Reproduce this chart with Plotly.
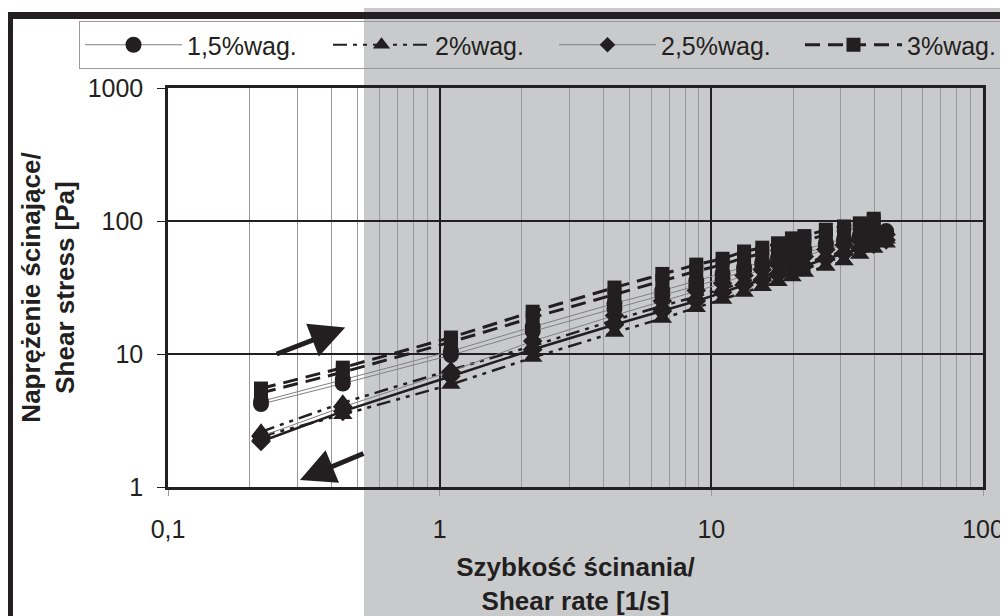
import math
import plotly.graph_objects as go

# ---------------- data ----------------
shear_rate = [0.22, 0.44, 1.1, 2.2, 4.4, 6.6, 8.8, 11, 13.2, 15.4, 17.6, 19.8, 22, 26.4, 30.8, 35.2, 39.6, 44]

s15_up = [4.4, 6.4, 10.5, 16, 24, 30, 35.5, 40, 45, 49, 53, 57, 61, 68, 73, 78, 82, 84]
s15_dn = [4.2, 6.0, 9.8, 14.8, 22, 27.5, 32.5, 37, 42, 46, 50, 54, 57, 64, 69, 74, 79, 82]

s2_up = [2.6, 4.3, 7.6, 11.5, 18, 23, 27, 31, 35, 38, 42, 45, 48, 54, 59, 64, 69, 73]
s2_dn = [2.4, 3.5, 5.9, 9.4, 14.5, 18.5, 22.3, 25.7, 29, 32, 35, 38, 41, 45.5, 50, 56, 62, 68]

s25_up = [2.4, 4.0, 7.4, 12.5, 19.5, 25, 30, 34, 39, 43, 47, 51, 54, 61, 66, 71, 76, 79]
s25_dn = [2.2, 3.7, 6.8, 10.8, 16.6, 21, 25, 29, 33, 36, 39.5, 43, 46, 52, 57, 62, 67, 72]

s3_up = [5.5, 7.9, 13.3, 20.8, 31.6, 40, 47, 52, 59, 63, 68, 74, 77, 86, 91, 96, 104]
s3_dn = [5.1, 7.3, 12.3, 18.8, 28, 35.5, 42, 47, 53, 57, 62, 67, 71, 79, 85, 91, 99]

legend_names = ["1,5%wag.", "2%wag.", "2,5%wag.", "3%wag."]
x_tickvals = [0.1, 1, 10, 100]
x_ticktext = ["0,1", "1", "10", "100"]
y_tickvals = [1, 10, 100, 1000]
y_ticktext = ["1", "10", "100", "1000"]

# arrows (head x, head y in data units; tail offset in px)
arrow_up = dict(x=0.449, y=15.8, ax=-70, ay=27)
arrow_dn = dict(x=0.306, y=1.13, ax=65, ay=-27)

# ---------------- layout constants ----------------
# the page body adds an 8px offset, so the figure is 1000x608
OFF = 8
W, H = 1000, 608
ML, MR, MT, MB = 160, 25, 80, 129
INK = "#231f20"
GRAY_BG = "#c9cacc"
FONT = "Liberation Sans, Arial, sans-serif"


def px_x(px):
    """screen px -> paper x"""
    return (px - OFF - ML) / (W - ML - MR)


def px_y(py):
    """screen px -> paper y"""
    return (H - MB - (py - OFF)) / (H - MT - MB)


DASH3 = "15px,8px"
DASH2 = "14px,6px,4px,6px,4px,6px"

fig = go.Figure()

# data traces
series = [
    (s15_up, dict(color="#808080", width=1), dict(symbol="circle", size=16)),
    (s15_dn, dict(color="#808080", width=1), dict(symbol="circle", size=16)),
    (s2_up, dict(color=INK, width=2.5, dash=DASH2), dict(symbol="triangle-up", size=17)),
    (s2_dn, dict(color=INK, width=2.5, dash=DASH2), dict(symbol="triangle-up", size=17)),
    (s25_up, dict(color="#808080", width=1), dict(symbol="diamond", size=15)),
    (s25_dn, dict(color=INK, width=2.5), dict(symbol="diamond", size=15)),
    (s3_up, dict(color=INK, width=3, dash=DASH3), dict(symbol="square", size=14)),
    (s3_dn, dict(color=INK, width=3, dash=DASH3), dict(symbol="square", size=14)),
]
for yv, line, marker in series:
    fig.add_trace(go.Scatter(
        x=shear_rate[:len(yv)], y=yv, mode="lines+markers",
        line=line, marker=dict(color=INK, **marker),
        showlegend=False, hoverinfo="skip"))

# legend-only traces
legend_styles = [
    (dict(color="#808080", width=1), dict(symbol="circle", size=16), 136),
    (dict(color=INK, width=2, dash=DASH2), dict(symbol="triangle-up", size=15), 114),
    (dict(color="#808080", width=1), dict(symbol="diamond", size=12), 134),
    (dict(color=INK, width=3, dash=DASH3), dict(symbol="square", size=14), 95),
]
for name, (line, marker, lw) in zip(legend_names, legend_styles):
    fig.add_trace(go.Scatter(
        x=[None], y=[None], mode="lines+markers", name=name,
        line=line, marker=dict(color=INK, **marker), legendwidth=lw))

shapes = [
    # gray page region
    dict(type="rect", xref="paper", yref="paper", layer="below",
         x0=px_x(364), x1=px_x(1020), y0=px_y(-4), y1=px_y(630),
         fillcolor=GRAY_BG, line=dict(width=0)),
    # frame lines
    dict(type="line", xref="paper", yref="paper",
         x0=px_x(7), x1=px_x(1020), y0=px_y(15.5), y1=px_y(15.5),
         line=dict(color=INK, width=7)),
    dict(type="line", xref="paper", yref="paper",
         x0=px_x(10), x1=px_x(10), y0=px_y(12), y1=px_y(630),
         line=dict(color=INK, width=6)),
]

annotations = []
for a in (arrow_up, arrow_dn):
    annotations.append(dict(
        xref="x", yref="y", x=math.log10(a["x"]), y=math.log10(a["y"]),
        ax=a["ax"], ay=a["ay"], text="", showarrow=True,
        arrowhead=2, arrowsize=1.4, arrowwidth=5, arrowcolor=INK))

minor_vals = [m * 10 ** e for e in (-1, 0, 1) for m in range(2, 10)]

fig.update_layout(
    width=W, height=H,
    margin=dict(l=ML, r=MR, t=MT, b=MB, autoexpand=False),
    paper_bgcolor="white", plot_bgcolor="rgba(0,0,0,0)",
    font=dict(family=FONT, color=INK, size=24),
    shapes=shapes, annotations=annotations,
    legend=dict(
        orientation="h", xref="paper", yref="paper",
        x=px_x(79), y=px_y(21), xanchor="left", yanchor="top",
        bgcolor="rgba(0,0,0,0)", bordercolor="#9a9a9a", borderwidth=1,
        font=dict(family=FONT, size=25, color=INK),
        itemwidth=97, tracegroupgap=0),
    xaxis=dict(
        type="log", range=[-1, 2],
        tickmode="array", tickvals=x_tickvals, ticktext=x_ticktext,
        ticks="outside", ticklen=6, tickcolor="#9a9a9a", tickwidth=1,
        ticklabelstandoff=12,
        showgrid=True, gridcolor=INK, gridwidth=2,
        showline=True, linecolor=INK, linewidth=2.5, mirror=True,
        minor=dict(tickmode="array", tickvals=minor_vals, showgrid=True,
                   gridcolor="#9a9a9a", gridwidth=1, ticks=""),
        zeroline=False,
        title=dict(text="<b>Szybkość ścinania/<br>Shear rate [1/s]</b>",
                   font=dict(family=FONT, size=26, color=INK), standoff=24),
        tickfont=dict(family=FONT, size=25, color=INK)),
    yaxis=dict(
        type="log", range=[0, 3],
        tickmode="array", tickvals=y_tickvals, ticktext=y_ticktext,
        ticks="outside", ticklen=8, tickcolor=INK, tickwidth=1,
        ticklabelstandoff=9,
        showgrid=True, gridcolor=INK, gridwidth=2,
        showline=True, linecolor=INK, linewidth=2.5, mirror=True,
        zeroline=False,
        title=dict(text="<b>Naprężenie ścinające/<br>Shear stress [Pa]</b>",
                   font=dict(family=FONT, size=26, color=INK), standoff=6),
        tickfont=dict(family=FONT, size=25, color=INK)),
)

fig.write_html("out.html")
